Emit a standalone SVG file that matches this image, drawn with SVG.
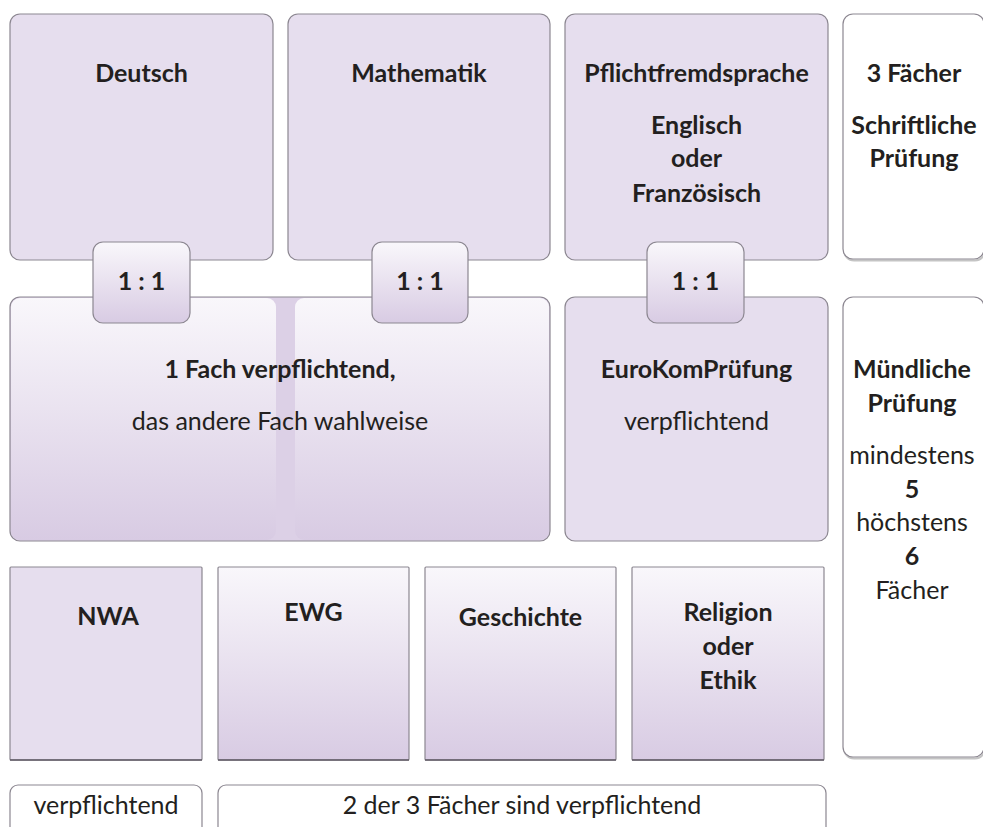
<svg xmlns="http://www.w3.org/2000/svg" width="983" height="827" viewBox="0 0 983 827">
<defs>
<linearGradient id="g" x1="0" y1="0" x2="0" y2="1">
<stop offset="0" stop-color="#F9F7FB"/>
<stop offset="1" stop-color="#D8CBE3"/>
</linearGradient>
<style>
.flat{fill:#E6DEEE;stroke:#8C8791;stroke-width:1.2}
.grad{fill:url(#g);stroke:#8C8791;stroke-width:1.2}
.white{fill:#FFFFFF;stroke:#8C8791;stroke-width:1.2}
.shadow{fill:none;stroke:#C4C4C4;stroke-width:2}
.panel{fill:url(#g);stroke:none}
.base{stroke:#5E5963;stroke-width:1.6}
text{font-family:Lato,"Liberation Sans",sans-serif;font-size:25px;fill:#231F20;text-anchor:middle}
.b{font-weight:bold}
</style>
</defs>
<rect width="983" height="827" fill="#FFFFFF"/>
<g id="deutsch"><rect class="flat" x="10" y="14" width="263" height="246" rx="10"/><text class="b" x="141.5" y="82">Deutsch</text></g>
<g id="mathematik"><rect class="flat" x="288" y="14" width="262" height="246" rx="10"/><text class="b" x="419" y="82">Mathematik</text></g>
<g id="fremdsprache"><rect class="flat" x="565" y="14" width="263" height="246" rx="10"/><text class="b" x="696.5" y="82">Pflichtfremdsprache</text><text class="b" x="696.5" y="134">Englisch</text><text class="b" x="696.5" y="167">oder</text><text class="b" x="696.5" y="202">Französisch</text></g>
<g id="schriftlich"><rect class="shadow" x="844" y="15.5" width="141" height="245" rx="10"/><rect class="white" x="843" y="14" width="141" height="245" rx="10"/><text class="b" x="914" y="82">3 Fächer</text><text class="b" x="914" y="134">Schriftliche</text><text class="b" x="914" y="167">Prüfung</text></g>
<g id="wahl"><rect x="10" y="297" width="540" height="244" rx="10" fill="#DCD0E6" stroke="#8C8791" stroke-width="1.2"/><rect class="panel" x="11" y="298" width="265" height="242" rx="9"/><rect class="panel" x="295" y="298" width="254" height="242" rx="9"/><text class="b" x="280" y="378">1 Fach verpflichtend,</text><text x="280" y="430">das andere Fach wahlweise</text></g>
<g id="eurokom"><rect class="flat" x="565" y="297" width="263" height="244" rx="10"/><text class="b" x="696.5" y="378">EuroKomPrüfung</text><text x="696.5" y="430">verpflichtend</text></g>
<g id="muendlich"><rect class="shadow" x="844" y="298.5" width="141" height="460" rx="10"/><rect class="white" x="843" y="297" width="141" height="460" rx="10"/><text class="b" x="912" y="378">Mündliche</text><text class="b" x="912" y="412">Prüfung</text><text x="912" y="464">mindestens</text><text class="b" x="912" y="498">5</text><text x="912" y="531">höchstens</text><text class="b" x="912" y="565">6</text><text x="912" y="599">Fächer</text></g>
<g id="badge1"><rect class="grad" x="93" y="242" width="97" height="81" rx="10"/><text class="b" x="141.5" y="290">1 : 1</text></g>
<g id="badge2"><rect class="grad" x="372" y="242" width="96" height="81" rx="10"/><text class="b" x="420" y="290">1 : 1</text></g>
<g id="badge3"><rect class="grad" x="647" y="242" width="97" height="81" rx="10"/><text class="b" x="695.5" y="290">1 : 1</text></g>
<g id="nwa"><rect class="flat" x="10" y="567" width="192" height="193" rx="1"/><line class="base" x1="10" y1="760" x2="202" y2="760"/><text class="b" x="108" y="625">NWA</text></g>
<g id="ewg"><rect class="grad" x="218" y="567" width="191" height="193" rx="1"/><line class="base" x1="218" y1="760" x2="409" y2="760"/><text class="b" x="313.5" y="621">EWG</text></g>
<g id="geschichte"><rect class="grad" x="425" y="567" width="191" height="193" rx="1"/><line class="base" x1="425" y1="760" x2="616" y2="760"/><text class="b" x="520.5" y="626">Geschichte</text></g>
<g id="religion"><rect class="grad" x="632" y="567" width="192" height="193" rx="1"/><line class="base" x1="632" y1="760" x2="824" y2="760"/><text class="b" x="728" y="621">Religion</text><text class="b" x="728" y="655">oder</text><text class="b" x="728" y="689">Ethik</text></g>
<g id="label1"><rect class="white" x="10" y="785" width="192" height="60" rx="8"/><text x="106" y="814">verpflichtend</text></g>
<g id="label2"><rect class="white" x="218" y="785" width="608" height="60" rx="8"/><text x="522" y="814">2 der 3 Fächer sind verpflichtend</text></g>
<g id="connectors"></g>
</svg>
